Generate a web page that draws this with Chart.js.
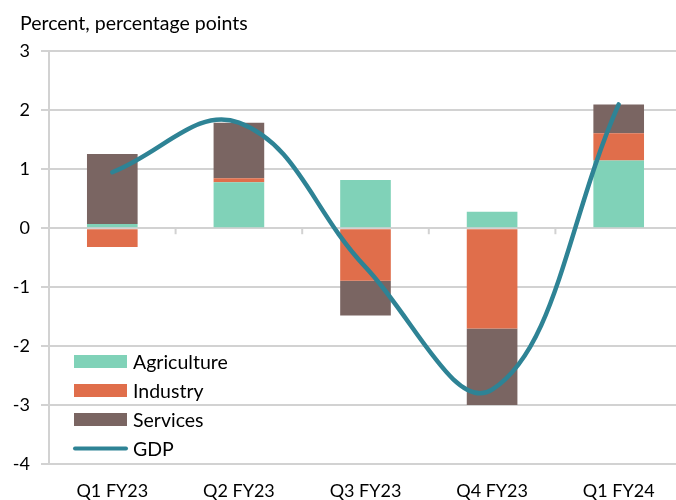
<!DOCTYPE html>
<html>
<head>
<meta charset="utf-8">
<script src="https://cdn.jsdelivr.net/npm/chart.js@4/dist/chart.umd.min.js"></script>
<style>
  html, body { margin: 0; padding: 0; background: #fff; overflow: hidden; }
  #wrap { position: relative; width: 682px; height: 500px; }
</style>
</head>
<body>
<div id="wrap"><canvas id="c"></canvas></div>
<script>
const categories = ['Q1 FY23', 'Q2 FY23', 'Q3 FY23', 'Q4 FY23', 'Q1 FY24'];
const agriculture = [0.07, 0.78, 0.82, 0.28, 1.15];
const industry = [-0.32, 0.07, -0.89, -1.70, 0.46];
const services = [1.19, 0.94, -0.59, -1.30, 0.49];
const gdp = [0.95, 1.79, -0.66, -2.74, 2.10];
const yTicks = [3, 2, 1, 0, -1, -2, -3, -4];
const titleText = 'Percent, percentage points';

const FONT = 'Lato, "Open Sans", sans-serif';
const COLORS = { agri: '#80d2b8', ind: '#e06e4b', serv: '#7a6562', gdp: '#2e8395', grid: '#d2d2d2' };

// Legend drawn inside the chart area (bottom-left), from dataset labels/colours
const innerLegend = {
  id: 'innerLegend',
  afterDatasetsDraw(chart) {
    const ctx = chart.ctx;
    const area = chart.chartArea;
    const x0 = area.left + 25;
    const yStart = 361.5;
    const step = 29;
    ctx.save();
    ctx.font = '19.5px ' + FONT;
    ctx.textBaseline = 'middle';
    ctx.textAlign = 'left';
    chart.data.datasets.forEach((ds, i) => {
      const y = yStart + i * step;
      if (ds.type === 'line') {
        ctx.strokeStyle = ds.borderColor;
        ctx.lineWidth = 4;
        ctx.lineCap = 'round';
        ctx.beginPath();
        ctx.moveTo(x0 + 1, y);
        ctx.lineTo(x0 + 52, y);
        ctx.stroke();
      } else {
        ctx.fillStyle = ds.backgroundColor;
        ctx.fillRect(x0, y - 6.5, 53, 13);
      }
      ctx.fillStyle = '#000';
      ctx.fillText(ds.label, x0 + 59, y + 1);
    });
    ctx.restore();
  }
};

// Category separator tick marks on the zero line
const zeroTicks = {
  id: 'zeroTicks',
  beforeDatasetsDraw(chart) {
    const xs = chart.scales.x, ys = chart.scales.y;
    const ctx = chart.ctx;
    const y0 = ys.getPixelForValue(0);
    ctx.save();
    ctx.strokeStyle = COLORS.grid;
    ctx.lineWidth = 2;
    for (let i = 0; i < categories.length - 1; i++) {
      const xm = (xs.getPixelForValue(i) + xs.getPixelForValue(i + 1)) / 2;
      ctx.beginPath();
      ctx.moveTo(xm, y0);
      ctx.lineTo(xm, y0 + 6);
      ctx.stroke();
    }
    ctx.restore();
  }
};

// shift the title to its left offset
const titleShift = {
  id: 'titleShift',
  afterLayout(chart) {
    if (chart.titleBlock) chart.titleBlock.left = 20;
  }
};

new Chart(document.getElementById('c'), {
  data: {
    labels: categories,
    datasets: [
      { type: 'bar', label: 'Agriculture', data: agriculture, backgroundColor: COLORS.agri, stack: 'contrib', order: 2 },
      { type: 'bar', label: 'Industry', data: industry, backgroundColor: COLORS.ind, stack: 'contrib', order: 2 },
      { type: 'bar', label: 'Services', data: services, backgroundColor: COLORS.serv, stack: 'contrib', order: 2 },
      { type: 'line', label: 'GDP', data: gdp, borderColor: COLORS.gdp, backgroundColor: COLORS.gdp,
        borderWidth: 4.5, pointRadius: 0, tension: 0.4, stack: 'gdp', order: 1, borderCapStyle: 'round' }
    ]
  },
  options: {
    responsive: true,
    maintainAspectRatio: false,
    animation: false,
    layout: { padding: { left: 6, right: 0, top: 12, bottom: 0 } },
    datasets: { bar: { categoryPercentage: 0.4, barPercentage: 1 } },
    plugins: {
      legend: { display: false },
      tooltip: { enabled: false },
      title: {
        display: true, text: titleText, align: 'start', color: '#000',
        font: { family: FONT, size: 19.5, weight: 'normal' },
        padding: { top: 0, bottom: 16 }
      }
    },
    scales: {
      x: {
        stacked: true,
        afterFit(scale) { scale.height = 36; },
        grid: { display: false, drawTicks: false },
        border: { display: false },
        ticks: { color: '#000', font: { family: FONT, size: 18 }, padding: 16 }
      },
      y: {
        stacked: true,
        min: -4, max: 3,
        afterBuildTicks(scale) { scale.ticks = yTicks.map(v => ({ value: v })); },
        afterFit(scale) { scale.width = 43; },
        grid: { color: COLORS.grid, lineWidth: 2, tickLength: 8 },
        border: { display: true, color: COLORS.grid, width: 2 },
        ticks: { color: '#000', font: { family: FONT, size: 18 }, padding: 11 }
      }
    }
  },
  plugins: [zeroTicks, innerLegend, titleShift]
});
</script>
</body>
</html>
